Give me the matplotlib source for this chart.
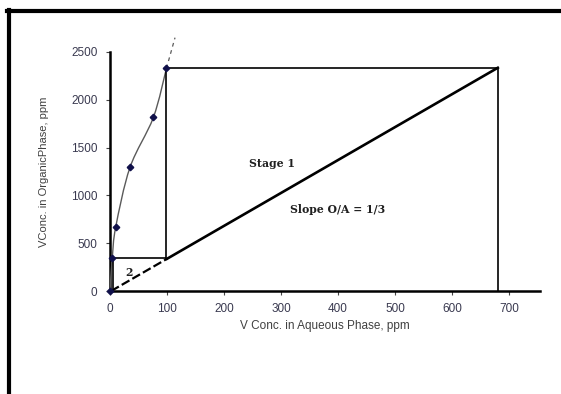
import numpy as np
import matplotlib.pyplot as plt
from matplotlib.path import Path
from matplotlib.patches import PathPatch
from matplotlib.lines import Line2D

# equilibrium isotherm points (aqueous ppm, organic ppm)
eq_aq = [0, 4, 10, 35, 76, 99]
eq_org = [0, 345, 668, 1292, 1815, 2330]

# extrapolated end of the isotherm (dashed)
ext_aq = [99, 114]
ext_org = [2330, 2650]

# operating line, slope O/A = 1/3
op_aq = [2, 100, 680]
op_org = [0, 337, 2335]

# McCabe-Thiele stage steps
step_aq = [680, 680, 99, 99, 6, 6]
step_org = [0, 2335, 2335, 340, 340, 0]

xticks = [0, 100, 200, 300, 400, 500, 600, 700]
yticks = [0, 500, 1000, 1500, 2000, 2500]

plt.rcParams['font.family'] = ['Liberation Sans', 'DejaVu Sans']

fig = plt.figure(figsize=(5.61, 3.94), dpi=100)
ax = fig.add_axes([110 / 561, 1 - 291 / 394, 430 / 561, 239 / 394])


def smooth_path(xs, ys, t=1 / 6):
    # Catmull-Rom style bezier through the points, like a smoothed spreadsheet line
    pts = np.column_stack([xs, ys]).astype(float)
    verts = [pts[0]]
    codes = [Path.MOVETO]
    n = len(pts)
    for i in range(n - 1):
        p0 = pts[max(i - 1, 0)]
        p1 = pts[i]
        p2 = pts[i + 1]
        p3 = pts[min(i + 2, n - 1)]
        c1 = p1 + (p2 - p0) * t
        c2 = p2 - (p3 - p1) * t
        verts += [c1, c2, p2]
        codes += [Path.CURVE4] * 3
    return Path(verts, codes)


ax.add_patch(PathPatch(smooth_path(eq_aq, eq_org), fill=False,
                       edgecolor='#5a5a5a', lw=1.0, zorder=3))
ax.plot(ext_aq, ext_org, color='#5a5a5a', lw=0.9, ls=(0, (3, 3)),
        clip_on=False, zorder=3)
ax.plot(eq_aq, eq_org, ls='none', marker='D', ms=3.3, color='#10104a',
        clip_on=False, zorder=5)

# operating line: dashed below the second stage, solid above
ax.plot(op_aq[:2], op_org[:2], color='black', lw=1.6, ls=(0, (4, 1.5)), zorder=4)
ax.plot(op_aq[1:], op_org[1:], color='black', lw=1.9, zorder=4)

ax.plot(step_aq, step_org, color='black', lw=1.2, zorder=4)

note = dict(family='DejaVu Serif', fontweight='bold', fontsize=7.8,
            ha='center', va='center', color='#202020')
ax.text(284, 1336, 'Stage 1', **note)
ax.text(400, 855, 'Slope O/A = 1/3', **note)
ax.text(34, 192, '2', **note)

ax.set_xlim(0, 754)
ax.set_ylim(0, 2500)
ax.set_xticks(xticks)
ax.set_yticks(yticks)
ax.tick_params(labelsize=8.5, labelcolor='#3a3a50', length=3, width=0.8,
               color='#444444', pad=6)
for s in ['top', 'right']:
    ax.spines[s].set_visible(False)
for s in ['left', 'bottom']:
    ax.spines[s].set_linewidth(1.8)
ax.set_xlabel('V Conc. in Aqueous Phase, ppm', fontsize=8.5, color='#404040', labelpad=3)
ax.set_ylabel('VConc. in OrganicPhase, ppm', fontsize=8, color='#404040', labelpad=16)

# black frame along the top and left edges
fig.add_artist(Line2D([7 / 561, 1], [1 - 11 / 394] * 2, color='black', lw=3,
                      transform=fig.transFigure))
fig.add_artist(Line2D([8.5 / 561] * 2, [0, 1 - 9.5 / 394], color='black', lw=3,
                      transform=fig.transFigure))

fig.savefig('out.png', dpi=100)
